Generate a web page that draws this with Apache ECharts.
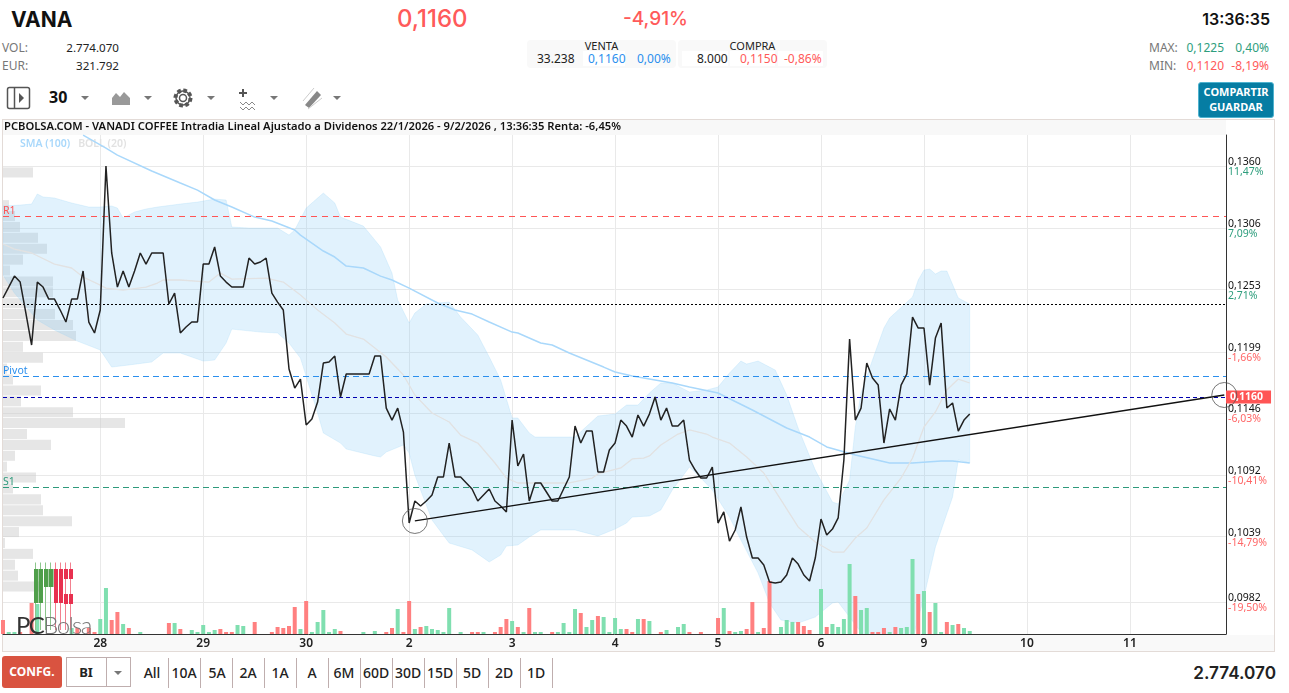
<!DOCTYPE html>
<html>
<head>
<meta charset="utf-8">
<title>VANA</title>
<script src="https://cdn.jsdelivr.net/npm/echarts@6/dist/echarts.min.js"></script>
<style>
html, body { margin: 0; padding: 0; background: #fff; width: 1289px; height: 693px; overflow: hidden; font-family: "Noto Sans", sans-serif; color: #222; }
.abs { position: absolute; white-space: nowrap; }
.gray { color: #777; }
.red { color: #ff5a5a; }
.green { color: #2e9e7d; }
.blue { color: #2b8fee; }
.small { font-size: 12px; line-height: 16px; }
.box { background: #f9f9f9; border-radius: 4px; }
.cell { background: #fff; }
.caret { width: 0; height: 0; border-left: 4px solid transparent; border-right: 4px solid transparent; border-top: 4px solid #777; }
.sep { top: 658px; height: 30px; width: 1px; background: #bfaeae; }
.rng { top: 663px; width: 32px; text-align: center; font-size: 14px; line-height: 20px; font-weight: 500; color: #222; }
#chart { position: absolute; left: 0; top: 120px; width: 1289px; height: 533px; }
#logo { position: absolute; left: 0; top: 555px; pointer-events: none; }
</style>
</head>
<body>
<!-- cabecera -->
<div class="abs" style="left:11px;top:5px;font:700 21px/30px Inter,sans-serif;color:#111">VANA</div>
<div class="abs red" style="left:397px;top:2px;font:500 24px/34px Inter,sans-serif">0,1160</div>
<div class="abs red" style="left:623px;top:5px;font:500 19px/28px Inter,sans-serif">-4,91%</div>
<div class="abs" style="right:19px;top:6px;font:600 16px/26px Inter,sans-serif;color:#111">13:36:35</div>

<div class="abs small gray" style="left:2px;top:40px">VOL:</div>
<div class="abs small" style="right:1170px;top:40px;font-size:11.6px">2.774.070</div>
<div class="abs small gray" style="left:2px;top:58px">EUR:</div>
<div class="abs small" style="right:1170px;top:58px;font-size:11.6px">321.792</div>

<div class="abs box" style="left:527px;top:40px;width:149px;height:28px"></div>
<div class="abs cell" style="left:583px;top:51px;width:42px;height:15px"></div>
<div class="abs" style="left:527px;top:39px;width:149px;text-align:center;font-size:11px;line-height:14px">VENTA</div>
<div class="abs small" style="left:537px;top:51px">33.238</div>
<div class="abs small blue" style="left:588px;top:51px">0,1160</div>
<div class="abs small blue" style="left:637px;top:51px">0,00%</div>
<div class="abs box" style="left:678px;top:40px;width:149px;height:28px"></div>
<div class="abs cell" style="left:682px;top:51px;width:46px;height:15px"></div>
<div class="abs cell" style="left:730px;top:51px;width:45px;height:15px"></div>
<div class="abs cell" style="left:778px;top:51px;width:45px;height:15px"></div>
<div class="abs" style="left:678px;top:39px;width:149px;text-align:center;font-size:11px;line-height:14px">COMPRA</div>
<div class="abs small" style="left:697px;top:51px">8.000</div>
<div class="abs small red" style="left:740px;top:51px">0,1150</div>
<div class="abs small red" style="left:784px;top:51px">-0,86%</div>

<div class="abs small gray" style="left:1149px;top:40px">MAX:</div>
<div class="abs small green" style="right:65px;top:40px">0,1225</div>
<div class="abs small green" style="right:20px;top:40px">0,40%</div>
<div class="abs small gray" style="left:1149px;top:58px">MIN:</div>
<div class="abs small red" style="right:65px;top:58px">0,1120</div>
<div class="abs small red" style="right:20px;top:58px">-8,19%</div>

<div class="abs" style="left:1198px;top:82px;width:76px;height:36px;background:#067da3;border-radius:3px;color:#fff;font-size:11px;font-weight:700;line-height:14.5px;text-align:center;padding-top:2px;box-sizing:border-box;border:1px solid #4fb3cf">COMPARTIR<br>GUARDAR</div>

<!-- barra de iconos -->
<svg class="abs" style="left:0;top:80px" width="350" height="34">
  <rect x="7.5" y="7.5" width="22" height="21" rx="2" fill="none" stroke="#555" stroke-width="1.5"/>
  <line x1="14.5" y1="7.5" x2="14.5" y2="28.5" stroke="#555" stroke-width="1.5"/>
  <path d="M19 13 L24 18 L19 23 Z" fill="#555"/>
  <path d="M112 25 V18 L116 13 L120 17 L124 12 L130 18 V25 Z" fill="#999"/>
  <g fill="none" stroke="#555">
    <circle cx="183" cy="18" r="7.5" stroke-width="4" stroke-dasharray="3.5 2.4"/>
    <circle cx="183" cy="18" r="7" stroke-width="1.5"/>
    <circle cx="183" cy="18" r="3.5" stroke-width="1.5"/>
  </g>
  <path d="M243 9 v8 M239 13 h8" stroke="#555" stroke-width="2"/>
  <path d="M240 22 l3 3 l3 -3 l3 3 l3 -3 l3 3 M240 27 l3 3 l3 -3 l3 3 l3 -3 l3 3" fill="none" stroke="#888"/>
  <path d="M305 25 L317 11 L321 15 L309 28 Z" fill="#888"/>
  <path d="M303 21 L314 8 M308 29 L322 18" stroke="#ccc"/>
</svg>
<div class="abs" style="left:49px;top:85px;font-size:16px;font-weight:700;line-height:24px;color:#111">30</div>
<div class="abs caret" style="left:81px;top:96px"></div>
<div class="abs caret" style="left:144px;top:96px"></div>
<div class="abs caret" style="left:207px;top:96px"></div>
<div class="abs caret" style="left:270px;top:96px"></div>
<div class="abs caret" style="left:333px;top:96px"></div>

<!-- marco del grafico -->
<div class="abs" style="left:2px;top:119px;width:1273px;height:533px;border:1px solid #e3dbd7;box-sizing:border-box"></div>
<div class="abs" style="left:3px;top:120px;width:1223px;height:15px;background:#f8f8f8"></div>
<div class="abs" style="left:3px;top:635px;width:1271px;height:16px;background:#f9f9f9"></div>

<div id="chart"></div>

<svg id="logo" width="100" height="85">
  <g stroke-width="1">
    <path d="M35.5 7.5 V75 M40.5 7.5 V75 M45.5 7.5 V75 M50.5 7.5 V75" stroke="#8cc68c"/>
    <path d="M55.5 7.5 V75 M60.5 7.5 V75 M65.5 7.5 V75 M70.5 7.5 V75" stroke="#f2808f"/>
  </g>
  <g fill="#4f9f4a">
    <rect x="34" y="14" width="4.5" height="34"/><rect x="39" y="14" width="4" height="34"/>
    <rect x="44" y="14" width="4.5" height="18"/><rect x="49" y="14" width="4.5" height="18"/>
  </g>
  <g fill="#e8304f">
    <rect x="54" y="14" width="4" height="34"/><rect x="59" y="14" width="4" height="34"/>
    <rect x="64" y="14" width="4" height="10"/><rect x="69" y="14" width="4" height="10"/>
    <rect x="64" y="39" width="4" height="10"/><rect x="69" y="39" width="4" height="10"/>
  </g>
  <text x="16" y="79" font-family="Lato" font-size="24" letter-spacing="-1.6" fill="#333">PC<tspan fill="#777" font-weight="300">Bolsa</tspan></text>
</svg>

<!-- pie -->
<div class="abs" style="left:2px;top:656px;width:60px;height:32px;background:#d95340;border-radius:3px;color:#fff;font-size:12px;font-weight:700;line-height:32px;text-align:center">CONFG.</div>
<div class="abs" style="left:66px;top:657px;width:65px;height:30px;border:1px solid #bfaeae;box-sizing:border-box"></div>
<div class="abs" style="left:106px;top:657px;width:1px;height:30px;background:#bfaeae"></div>
<div class="abs" style="left:66px;top:662px;width:40px;text-align:center;font-size:13px;font-weight:700;line-height:20px">BI</div>
<div class="abs caret" style="left:114px;top:671px"></div>
<div class="abs rng" style="left:136px">All</div><div class="abs sep" style="left:168px"></div>
<div class="abs rng" style="left:168px">10A</div><div class="abs sep" style="left:200px"></div>
<div class="abs rng" style="left:201px">5A</div><div class="abs sep" style="left:232px"></div>
<div class="abs rng" style="left:232px">2A</div><div class="abs sep" style="left:264px"></div>
<div class="abs rng" style="left:264px">1A</div><div class="abs sep" style="left:296px"></div>
<div class="abs rng" style="left:296px">A</div><div class="abs sep" style="left:328px"></div>
<div class="abs rng" style="left:328px">6M</div><div class="abs sep" style="left:360px"></div>
<div class="abs rng" style="left:360px">60D</div><div class="abs sep" style="left:392px"></div>
<div class="abs rng" style="left:392px">30D</div><div class="abs sep" style="left:424px"></div>
<div class="abs rng" style="left:424px">15D</div><div class="abs sep" style="left:456px"></div>
<div class="abs rng" style="left:456px">5D</div><div class="abs sep" style="left:488px"></div>
<div class="abs rng" style="left:488px">2D</div><div class="abs sep" style="left:520px"></div>
<div class="abs rng" style="left:520px">1D</div><div class="abs sep" style="left:552px"></div>
<div class="abs" style="right:13px;top:660px;font:600 17.2px/26px Inter,sans-serif;color:#222">2.774.070</div>

<script>
// eje X: cada dia son 18 barras de 30 minutos
const dayLabels = ['28', '29', '30', '2', '3', '4', '5', '6', '9', '10', '11'];
const dayTicks = [17, 35, 53, 71, 89, 107, 125, 143, 161, 179, 197];
const lastSlot = 213.8;

// eje Y
const priceTicks = [0.1360, 0.1306, 0.1253, 0.1199, 0.1146, 0.1092, 0.1039, 0.0982];
const pctLabels = ['11,47%', '7,09%', '2,71%', '-1,66%', '-6,03%', '-10,41%', '-14,79%', '-19,50%'];
const priceMin = 0.09547;
const priceMax = 0.13869;

// cierre
const price = [
  0.12457, 0.12552, 0.12647, 0.12595, 0.12327, 0.12050, 0.12595, 0.12552, 0.12448, 0.12448,
  0.12353, 0.12249, 0.12448, 0.12448, 0.12691, 0.12249, 0.12154, 0.12353, 0.13600, 0.12847,
  0.12552, 0.12691, 0.12552, 0.12691, 0.12847, 0.12751, 0.12847, 0.12847, 0.12847, 0.12405,
  0.12500, 0.12154, 0.12206, 0.12249, 0.12249, 0.12751, 0.12751, 0.12899, 0.12647, 0.12595,
  0.12552, 0.12552, 0.12552, 0.12803, 0.12751, 0.12769, 0.12803, 0.12500, 0.12422, 0.12353,
  0.11842, 0.11677, 0.11755, 0.11357, 0.11409, 0.11556, 0.11894, 0.11903, 0.11955, 0.11600,
  0.11799, 0.11799, 0.11799, 0.11799, 0.11799, 0.11955, 0.11955, 0.11504, 0.11400, 0.11504,
  0.11296, 0.10508, 0.10699, 0.10656, 0.10699, 0.10751, 0.10907, 0.10907, 0.11201, 0.10907,
  0.10907, 0.10855, 0.10803, 0.10699, 0.10751, 0.10803, 0.10699, 0.10656, 0.10604, 0.11400,
  0.11002, 0.11106, 0.10699, 0.10855, 0.10855, 0.10777, 0.10699, 0.10699, 0.10803, 0.10907,
  0.11348, 0.11201, 0.11305, 0.11305, 0.10950, 0.10950, 0.11141, 0.11201, 0.11400, 0.11348,
  0.11253, 0.11444, 0.11348, 0.11452, 0.11600, 0.11400, 0.11504, 0.11348, 0.11348, 0.11400,
  0.11054, 0.10967, 0.10898, 0.10898, 0.10993, 0.10508, 0.10604, 0.10352, 0.10448, 0.10647,
  0.10387, 0.10205, 0.10205, 0.10145, 0.09997, 0.09989, 0.09997, 0.10058, 0.10205, 0.10153,
  0.10058, 0.10006, 0.10205, 0.10543, 0.10404, 0.10456, 0.10552, 0.11054, 0.12102, 0.11400,
  0.11504, 0.11894, 0.11764, 0.11703, 0.11201, 0.11496, 0.11400, 0.11703, 0.11799, 0.12292,
  0.12197, 0.12197, 0.11703, 0.12110, 0.12240, 0.11504, 0.11548, 0.11305, 0.11400, 0.11452
];

// volumen (miles de titulos) y sentido de la barra: 1 sube, 0 baja
const volume = [
  28, 4, 4, 4, 0, 62, 60, 0, 0, 0,
  0, 0, 12, 12, 0, 12, 4, 30, 92, 28,
  44, 20, 12, 0, 4, 0, 0, 0, 0, 22,
  22, 10, 0, 8, 4, 18, 4, 8, 10, 4,
  4, 18, 16, 0, 24, 0, 0, 4, 14, 12,
  16, 54, 10, 66, 4, 24, 48, 4, 10, 6,
  0, 0, 0, 4, 0, 6, 0, 4, 12, 50,
  4, 66, 10, 14, 16, 10, 8, 4, 52, 0,
  4, 0, 4, 4, 4, 0, 4, 14, 30, 26,
  14, 4, 52, 4, 4, 0, 4, 4, 22, 4,
  50, 42, 14, 28, 36, 34, 4, 32, 10, 10,
  4, 30, 30, 26, 0, 4, 8, 0, 14, 20,
  4, 0, 4, 0, 0, 32, 52, 6, 4, 6,
  10, 64, 4, 12, 106, 0, 14, 28, 24, 24,
  16, 8, 0, 90, 14, 20, 14, 30, 140, 76,
  48, 52, 4, 4, 12, 4, 14, 12, 14, 150,
  80, 86, 44, 62, 4, 24, 18, 20, 12, 6
];
const volumeUp = [
  0, 1, 1, 0, 0, 0, 1, 0, 0, 0,
  0, 0, 1, 0, 0, 0, 0, 1, 1, 0,
  0, 1, 0, 0, 1, 0, 0, 0, 0, 0,
  1, 0, 0, 1, 1, 1, 1, 1, 0, 0,
  0, 1, 1, 0, 0, 0, 0, 0, 0, 0,
  0, 0, 1, 0, 1, 1, 1, 1, 1, 0,
  0, 0, 0, 1, 0, 1, 0, 0, 0, 1,
  0, 0, 1, 0, 1, 1, 1, 1, 1, 0,
  1, 0, 0, 0, 1, 0, 0, 0, 0, 1,
  0, 1, 0, 1, 1, 0, 0, 1, 1, 1,
  1, 0, 1, 1, 0, 1, 1, 1, 1, 0,
  0, 1, 0, 1, 0, 0, 1, 0, 1, 1,
  0, 0, 0, 0, 0, 0, 1, 0, 1, 1,
  0, 0, 1, 0, 0, 0, 1, 1, 1, 0,
  0, 0, 0, 1, 0, 1, 1, 1, 1, 0,
  1, 1, 0, 0, 0, 1, 0, 1, 1, 1,
  0, 1, 0, 1, 1, 0, 1, 0, 1, 1
];
const volumeMax = 998;

// perfil de volumen por nivel de precio, de arriba a abajo
const profile = [
  30, 0, 0, 6, 12, 17, 35, 44, 20, 7, 50, 50, 32, 52, 70, 73, 20, 40, 4, 10,
  38, 18, 70, 122, 24, 48, 12, 4, 33, 10, 38, 40, 69, 16, 2, 30, 12, 15, 40
];
const profileMax = 1223;

// bandas de Bollinger
const bollUpperAt = [0, 3, 5, 6, 7, 9, 12, 15, 17, 19, 20, 21, 23, 25, 27, 31, 34, 37, 39, 40, 43, 46, 48, 50, 51, 53, 55, 56, 58, 59, 63, 66, 68, 69, 71, 72, 74, 78, 80, 83, 85, 87, 89, 90, 92, 93, 99, 100, 104, 107, 109, 111, 113, 115, 117, 120, 123, 125, 127, 129, 130, 132, 135, 137, 139, 142, 145, 146, 148, 149, 150, 152, 154, 155, 159, 160, 161, 162, 163, 164, 165, 167, 169];
const bollUpper = [0.13254, 0.13262, 0.13271, 0.13358, 0.13332, 0.13323, 0.13280, 0.13245, 0.13245, 0.13254, 0.13236, 0.13150, 0.13202, 0.13228, 0.13245, 0.13271, 0.13288, 0.13314, 0.13306, 0.13072, 0.13063, 0.13063, 0.13063, 0.13002, 0.13046, 0.13236, 0.13323, 0.13366, 0.13280, 0.13158, 0.13080, 0.12899, 0.12673, 0.12440, 0.12240, 0.12327, 0.12405, 0.12422, 0.12292, 0.12136, 0.11946, 0.11747, 0.11418, 0.11418, 0.11288, 0.11253, 0.11253, 0.11253, 0.11435, 0.11452, 0.11530, 0.11530, 0.11634, 0.11721, 0.11721, 0.11643, 0.11660, 0.11686, 0.11807, 0.11911, 0.11885, 0.11911, 0.11833, 0.11617, 0.11331, 0.10967, 0.10690, 0.10673, 0.10881, 0.11340, 0.11634, 0.11920, 0.12197, 0.12284, 0.12466, 0.12613, 0.12699, 0.12708, 0.12665, 0.12691, 0.12691, 0.12457, 0.12405];
const bollLowerAt = [0, 2, 6, 9, 13, 17, 19, 22, 26, 28, 31, 35, 37, 39, 40, 45, 48, 50, 52, 55, 56, 59, 60, 65, 66, 67, 70, 71, 72, 75, 78, 82, 85, 87, 88, 90, 92, 94, 100, 104, 107, 109, 110, 113, 115, 117, 120, 122, 124, 127, 129, 132, 134, 136, 139, 142, 145, 146, 148, 151, 159, 161, 163, 166, 167, 169];
const bollLower = [0.12656, 0.12500, 0.12266, 0.12180, 0.12084, 0.12007, 0.11859, 0.11877, 0.11903, 0.11981, 0.11981, 0.11911, 0.11920, 0.12067, 0.12188, 0.12162, 0.12154, 0.12067, 0.11937, 0.11461, 0.11288, 0.11201, 0.11149, 0.11089, 0.11080, 0.11123, 0.11184, 0.11115, 0.10924, 0.10534, 0.10335, 0.10275, 0.10171, 0.10231, 0.10309, 0.10318, 0.10387, 0.10448, 0.10448, 0.10396, 0.10456, 0.10508, 0.10560, 0.10569, 0.10621, 0.10794, 0.10993, 0.10898, 0.10794, 0.10560, 0.10361, 0.10075, 0.09816, 0.09668, 0.09642, 0.09694, 0.09816, 0.09824, 0.09694, 0.09495, 0.09495, 0.09868, 0.10301, 0.10734, 0.11054, 0.11028];
const bollMidAt = [0, 2, 5, 9, 12, 14, 17, 18, 21, 25, 27, 28, 31, 36, 38, 40, 46, 49, 52, 55, 58, 60, 63, 65, 67, 70, 72, 75, 78, 80, 83, 86, 88, 90, 94, 99, 103, 104, 108, 110, 112, 113, 115, 118, 120, 123, 124, 127, 130, 133, 136, 139, 142, 145, 147, 149, 151, 154, 157, 159, 161, 163, 165, 167, 169];
const bollMid = [0.12925, 0.12881, 0.12847, 0.12751, 0.12717, 0.12639, 0.12569, 0.12543, 0.12526, 0.12552, 0.12587, 0.12613, 0.12613, 0.12595, 0.12673, 0.12621, 0.12630, 0.12595, 0.12483, 0.12353, 0.12240, 0.12145, 0.12102, 0.12024, 0.11946, 0.11790, 0.11617, 0.11461, 0.11383, 0.11270, 0.11201, 0.11028, 0.10898, 0.10855, 0.10855, 0.10855, 0.10898, 0.10933, 0.10985, 0.11063, 0.11071, 0.11089, 0.11184, 0.11279, 0.11314, 0.11279, 0.11253, 0.11201, 0.11080, 0.10941, 0.10708, 0.10474, 0.10344, 0.10257, 0.10257, 0.10378, 0.10465, 0.10708, 0.10898, 0.11071, 0.11340, 0.11470, 0.11660, 0.11755, 0.11721];

// media movil
const smaAt = [14, 18, 20, 26, 31, 34, 37, 40, 44, 47, 51, 52, 56, 58, 60, 63, 66, 68, 71, 76, 79, 82, 85, 89, 90, 94, 96, 99, 105, 107, 110, 117, 120, 125, 131, 137, 141, 144, 149, 152, 155, 159, 164, 166, 169];
const sma = [0.13868, 0.13756, 0.13695, 0.13557, 0.13453, 0.13392, 0.13306, 0.13245, 0.13158, 0.13124, 0.13046, 0.13002, 0.12864, 0.12812, 0.12734, 0.12717, 0.12647, 0.12613, 0.12543, 0.12414, 0.12353, 0.12318, 0.12249, 0.12162, 0.12154, 0.12067, 0.12050, 0.11981, 0.11859, 0.11816, 0.11781, 0.11721, 0.11686, 0.11634, 0.11487, 0.11331, 0.11253, 0.11167, 0.11097, 0.11063, 0.11028, 0.11028, 0.11045, 0.11045, 0.11028];

// lineas horizontales
const levelNames = ['R1', '', 'Pivot', '', 'S1'];
const levelValues = [0.13167, 0.12405, 0.11781, 0.11600, 0.10820];
const levelColors = ['#ff5555', '#000000', '#2b8fee', '#0000b0', '#2e9a7c'];
const levelDash = [[6, 5], [2, 2], [6, 4], [4, 3], [6, 4]];
const lastPriceLabel = '0,1160';

// linea de tendencia dibujada
const trendAt = [72, 213.5];
const trendValues = [0.10526, 0.11617];

function pairs(xs, ys) {
  return xs.map(function (x, i) { return [x, ys[i]]; });
}

function bollBand(params, api) {
  const pts = pairs(bollUpperAt, bollUpper).concat(pairs(bollLowerAt, bollLower).reverse())
    .map(function (p) { return api.coord(p); });
  return {
    type: 'polygon',
    shape: { points: pts },
    style: { fill: 'rgba(135,203,247,0.25)', stroke: 'rgba(135,203,247,0.2)', lineWidth: 1 }
  };
}

const myChart = echarts.init(document.getElementById('chart'));
const option = {
  animation: false,
  title: {
    text: 'PCBOLSA.COM - VANADI COFFEE Intradia Lineal Ajustado a Dividenos 22/1/2026 - 9/2/2026 , 13:36:35 Renta: -6,45%',
    left: 4,
    top: 1,
    padding: 0,
    textStyle: { fontFamily: 'Noto Sans', fontSize: 11.2, fontWeight: 600, color: '#111' }
  },
  legend: {
    left: 10,
    top: 14,
    icon: 'none',
    itemWidth: 0,
    itemHeight: 0,
    itemGap: 3,
    selectedMode: false,
    textStyle: { fontFamily: 'Noto Sans', fontSize: 10.5, fontWeight: 600 },
    data: [
      { name: 'SMA (100)', textStyle: { color: '#a9d8fb' } },
      { name: 'BOLL (20)', textStyle: { color: '#e2e2e2' } }
    ]
  },
  grid: [
    { left: 3, right: 63, top: 15, height: 499 },
    { left: 3, right: 63, top: 47, height: 425 }
  ],
  xAxis: [
    {
      type: 'value',
      min: 0,
      max: lastSlot,
      axisLine: { show: true, onZero: false, lineStyle: { color: '#333', width: 1 } },
      axisTick: { show: false, customValues: dayTicks },
      axisLabel: {
        customValues: dayTicks,
        margin: 4,
        fontFamily: 'Noto Sans',
        fontSize: 12,
        fontWeight: 600,
        color: '#222',
        formatter: function (v) { return dayLabels[dayTicks.indexOf(v)]; }
      },
      splitLine: { show: true, lineStyle: { color: '#e9e9e9', width: 1 } }
    },
    { gridIndex: 1, type: 'value', min: 0, max: profileMax, show: false }
  ],
  yAxis: [
    {
      type: 'value',
      position: 'right',
      min: priceMin,
      max: priceMax,
      axisLine: { show: true, onZero: false, lineStyle: { color: '#333', width: 1 } },
      axisTick: { show: false, customValues: priceTicks },
      axisLabel: {
        customValues: priceTicks,
        margin: 2,
        align: 'left',
        padding: [2, 0, 0, 0],
        formatter: function (v) {
          const i = priceTicks.indexOf(v);
          const tag = pctLabels[i].charAt(0) === '-' ? 'd' : 'u';
          return '{p|' + v.toFixed(4).replace('.', ',') + '}\n{' + tag + '|' + pctLabels[i] + '}';
        },
        rich: {
          p: { fontFamily: 'Noto Sans', fontSize: 10.5, lineHeight: 10, color: '#111' },
          u: { fontFamily: 'Noto Sans', fontSize: 10.5, lineHeight: 10, color: '#2e9e7d' },
          d: { fontFamily: 'Noto Sans', fontSize: 10.5, lineHeight: 10, color: '#ff6666' }
        }
      },
      splitLine: { show: true, lineStyle: { color: '#e9e9e9', width: 1 } }
    },
    { type: 'value', min: 0, max: volumeMax, show: false },
    { gridIndex: 1, type: 'category', inverse: true, show: false, data: profile.map(function (v, i) { return i; }) }
  ],
  series: [
    {
      name: 'Perfil',
      type: 'bar',
      xAxisIndex: 1,
      yAxisIndex: 2,
      data: profile,
      barCategoryGap: '8%',
      itemStyle: { color: 'rgba(205,205,205,0.5)' },
      silent: true,
      z: 1
    },
    {
      name: 'BOLL',
      type: 'custom',
      renderItem: bollBand,
      data: [[0, priceMax]],
      clip: true,
      silent: true,
      z: 2
    },
    {
      name: 'Volumen',
      type: 'bar',
      yAxisIndex: 1,
      barWidth: 4,
      data: volume.map(function (v, i) {
        return { value: [i, v], itemStyle: { color: volumeUp[i] ? '#80dfb0' : '#ff8080' } };
      }),
      silent: true,
      z: 3
    },
    {
      name: 'SMA (100)',
      type: 'line',
      data: pairs(smaAt, sma),
      showSymbol: false,
      lineStyle: { color: '#a9d8fb', width: 1.5 },
      itemStyle: { color: '#a9d8fb' },
      z: 4
    },
    {
      name: 'BOLL (20)',
      type: 'line',
      data: pairs(bollMidAt, bollMid),
      showSymbol: false,
      lineStyle: { color: '#e2e2e2', width: 1.3 },
      itemStyle: { color: '#e2e2e2' },
      z: 4
    },
    {
      name: 'VANA',
      type: 'line',
      data: price.map(function (v, i) { return [i, v]; }),
      showSymbol: false,
      lineStyle: { color: '#222', width: 1.5 },
      z: 6,
      markLine: {
        silent: true,
        symbol: 'none',
        animation: false,
        precision: 5,
        data: levelValues.map(function (v, i) {
          const isLast = v === 0.116;
          return {
            yAxis: v,
            lineStyle: { type: levelDash[i], color: levelColors[i], width: 1 },
            label: isLast ? {
              show: true,
              position: 'end',
              distance: 0,
              formatter: lastPriceLabel,
              backgroundColor: '#ff5555',
              color: '#fff',
              fontFamily: 'Noto Sans',
              fontSize: 10.5,
              fontWeight: 700,
              padding: [1, 8, 1, 4]
            } : {
              show: levelNames[i] !== '',
              position: 'insideStartTop',
              distance: 0,
              formatter: levelNames[i],
              color: levelColors[i],
              fontFamily: 'Noto Sans',
              fontSize: 10.5
            }
          };
        })
      }
    },
    {
      name: 'Tendencia',
      type: 'line',
      data: pairs(trendAt, trendValues),
      showSymbol: false,
      clip: false,
      lineStyle: { color: '#111', width: 1.3 },
      z: 7
    },
    {
      name: 'Anclas',
      type: 'scatter',
      data: pairs(trendAt, trendValues),
      symbolSize: 25,
      clip: false,
      silent: true,
      itemStyle: { color: 'rgba(0,0,0,0)', borderColor: '#555', borderWidth: 1 },
      z: 8
    }
  ]
};

option && myChart.setOption(option);
</script>
</body>
</html>
